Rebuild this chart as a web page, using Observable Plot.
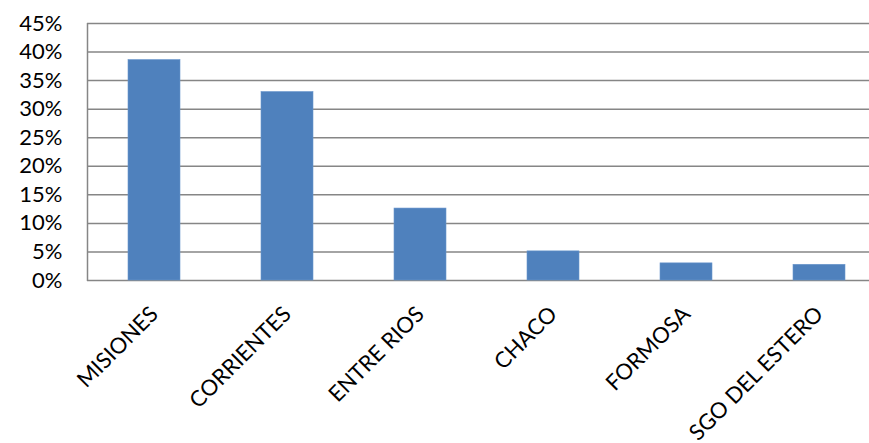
<!DOCTYPE html>
<html>
<head>
<meta charset="utf-8">
<script src="https://cdn.jsdelivr.net/npm/d3@7"></script>
<script src="https://cdn.jsdelivr.net/npm/@observablehq/plot@0.6"></script>
<style>
  html, body { margin: 0; padding: 0; background: #fff; overflow: hidden; }
  #chart svg { display: block; }
</style>
</head>
<body>
<div id="chart"></div>
<script>
const categories = ["MISIONES", "CORRIENTES", "ENTRE RIOS", "CHACO", "FORMOSA", "SGO DEL ESTERO"];
const values = [38.6, 33.0, 12.6, 5.1, 3.0, 2.75];
const yTicks = [0, 5, 10, 15, 20, 25, 30, 35, 40, 45];
const yTickLabels = ["0%", "5%", "10%", "15%", "20%", "25%", "30%", "35%", "40%", "45%"];

const data = categories.map((c, i) => ({cat: c, val: values[i]}));

const leftLine = (index, scales, values, dims) => {
  const [y0, y1] = scales.y.range ? [dims.height - dims.marginBottom, dims.marginTop] : [0, 0];
  const line = d3.create("svg:line")
    .attr("x1", dims.marginLeft + 0.5)
    .attr("x2", dims.marginLeft + 0.5)
    .attr("y1", y0 + 1)
    .attr("y2", y1)
    .attr("stroke", "#868686")
    .attr("stroke-width", 1.5);
  return line.node();
};

const chart = Plot.plot({
  width: 869,
  height: 443,
  marginLeft: 87,
  marginRight: 0,
  marginTop: 23,
  marginBottom: 163,
  style: {fontFamily: "Lato, sans-serif", fontSize: "22px", color: "#000", background: "#fff", overflow: "hidden"},
  x: {domain: categories, range: [87.4, 886.6], paddingInner: 0.606, paddingOuter: 0.303, align: 0.5, label: null},
  y: {domain: [0, 45], label: null},
  marks: [
    Plot.ruleY(yTicks, {stroke: "#868686", strokeWidth: 1.5}),
    Plot.barY(data, {x: "cat", y: "val", fill: "#4f81bd", stroke: "#6a96cc", strokeWidth: 0.6}),
    leftLine,
    Plot.axisY(yTicks, {tickFormat: d => yTickLabels[yTicks.indexOf(d)], tickSize: 0, tickPadding: 25, label: null}),
    Plot.axisX({tickRotate: -45, tickSize: 0, tickPadding: 30, label: null})
  ]
});
document.getElementById("chart").appendChild(chart);
</script>
</body>
</html>
